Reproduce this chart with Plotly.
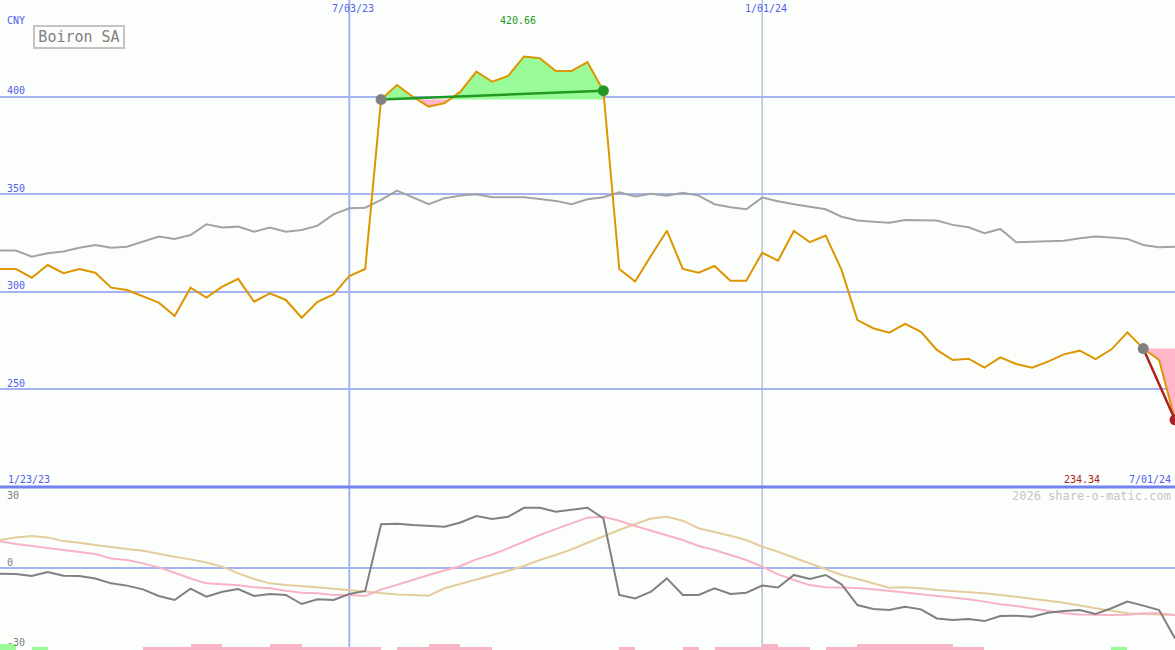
import pandas as pd
import plotly.graph_objects as go

# ---------------- data ----------------
dates = pd.date_range("2023-01-30", "2024-07-01", freq="7D")

price = [311.7, 311.7, 307.2, 313.7, 309.5, 311.7, 309.8, 302.1, 300.9, 297.8,
         294.4, 287.6, 302.1, 297.0, 302.6, 306.6, 294.9, 299.2, 295.8, 286.7,
         294.9, 298.7, 308.1, 311.7, 398.6, 406.0, 400.0, 394.9, 396.7, 402.6,
         412.9, 407.7, 410.7, 420.66, 419.7, 413.2, 413.2, 417.7, 403.1, 311.7,
         305.2, 318.5, 331.3, 311.7, 309.8, 313.2, 305.7, 305.7, 320.0, 316.0,
         331.2, 325.4, 328.8, 311.2, 285.5, 281.3, 279.0, 283.5, 279.5, 270.2,
         265.0, 265.7, 261.1, 266.4, 263.0, 261.1, 264.2, 267.9, 269.8, 265.5,
         270.5, 279.2, 270.9, 265.0, 234.34]

compare = [321.1, 321.1, 318.0, 319.7, 320.6, 322.6, 324.0, 322.6, 323.1, 325.7,
           328.3, 327.1, 329.1, 334.6, 332.9, 333.4, 330.8, 332.9, 330.8, 331.7,
           333.9, 339.7, 342.8, 343.1, 347.1, 351.9, 348.5, 344.9, 348.0, 349.3,
           350.0, 348.5, 348.5, 348.5, 347.6, 346.6, 344.9, 347.4, 348.5, 351.0,
           348.8, 350.2, 349.3, 350.8, 349.3, 344.9, 343.3, 342.3, 348.3, 346.4,
           344.9, 343.6, 342.3, 338.5, 336.5, 335.9, 335.4, 336.8, 336.5, 336.5,
           334.3, 333.1, 330.0, 332.2, 325.4, 325.7, 326.2, 326.2, 327.4, 328.3,
           327.8, 327.1, 324.0, 322.8, 323.1]

momentum = [-2.1, -2.25, -3.0, -1.5, -2.9, -3.0, -3.9, -5.75, -6.6, -8.0,
            -10.5, -12.0, -7.75, -10.75, -8.9, -7.9, -10.5, -9.75, -10.1, -13.5,
            -11.75, -12.0, -9.75, -8.6, 16.4, 16.6, 16.1, 15.9, 15.5, 17.1,
            19.5, 18.4, 19.25, 22.6, 22.6, 21.1, 21.75, 22.6, 18.6, -10.1,
            -11.4, -8.9, -3.9, -10.1, -10.1, -7.6, -9.75, -9.25, -6.6, -7.3,
            -2.6, -4.1, -2.6, -6.1, -13.9, -15.4, -15.75, -14.5, -15.5, -18.9,
            -19.5, -19.1, -19.9, -18.0, -17.9, -18.25, -16.75, -16.1, -15.75, -17.25,
            -15.1, -12.6, -14.1, -15.75, -26.4]

avg_fast = [10.1, 9.0, 8.25, 7.5, 7.0, 6.1, 5.25, 3.6, 3.0, 1.75,
            0.25, -1.75, -3.9, -5.75, -6.1, -6.5, -7.25, -7.6, -8.5, -9.25,
            -9.5, -10.1, -10.1, -10.5, -8.1, -6.4, -4.5, -2.6, -1.0, 0.75,
            3.25, 5.1, 7.4, 9.9, 12.4, 14.6, 16.75, 18.9, 19.25, 17.75,
            15.75, 14.0, 12.4, 10.5, 8.25, 6.75, 4.9, 3.0, 0.5, -2.4,
            -4.5, -6.4, -7.25, -7.4, -7.5, -8.0, -8.6, -9.1, -9.75, -10.5,
            -11.1, -11.75, -12.6, -13.6, -14.25, -15.1, -16.1, -17.0, -17.4, -17.6,
            -17.6, -17.5, -17.0, -17.0, -17.6]

avg_slow = [10.5, 11.5, 12.0, 11.5, 10.1, 9.5, 8.6, 7.75, 7.1, 6.5,
            5.25, 4.25, 3.25, 2.1, 0.5, -2.0, -4.1, -5.75, -6.4, -6.75,
            -7.25, -7.75, -8.25, -8.9, -9.5, -9.9, -10.1, -10.4, -7.6, -6.0,
            -4.25, -2.6, -1.0, 0.75, 3.0, 4.9, 7.0, 9.5, 12.0, 14.25,
            16.5, 18.6, 19.25, 17.75, 14.9, 13.6, 12.1, 10.5, 8.0, 6.1,
            3.9, 1.75, -0.5, -2.6, -4.1, -5.75, -7.4, -7.25, -7.6, -8.25,
            -8.6, -9.1, -9.5, -10.1, -10.75, -11.6, -12.25, -13.0, -14.1, -15.1,
            -16.0, -17.0, -17.25, -17.4, -17.6]

signal = [2, 0, 1, 0, 0, 0, 0, 0, 0, -1,
          -1, -1, -2, -2, -1, -1, -1, -2, -2, -1,
          -1, -1, -1, -1, 0, -1, -1, -2, -2, -1,
          -1, 0, 0, 0, 0, 0, 0, 0, 0, -1,
          0, 0, 0, -1, 0, -1, -1, -1, -2, -1,
          -1, 0, -1, -1, -2, -2, -2, -2, -2, -2,
          -1, -1, 0, 0, 0, 0, 0, 0, 0, 0,
          1, 0, 0, 0, 0]

periods = [(24, 38, "#229922"), (72, 74, "#aa2222")]   # (start idx, end idx, end colour)
upper_ticks = [250, 300, 350, 400]
lower_ticks = [30, 0, -30]
date_ticks = ["2023-07-03", "2024-01-01"]
date_tick_labels = ["7/03/23", "1/01/24"]
first_label, last_label = "1/23/23", "7/01/24"
title = "Boiron SA"
currency = "CNY"
watermark = "2026 share-o-matic.com"

# ---------------- styling ----------------
W, H = 1175, 650
BG = "#fcfefc"
GRID = "#a6b3f3"
BLUE_TXT = "#5060ee"
FONT = "DejaVu Sans Mono"
ORANGE = "#dd9500"
SPLIT = 163 / H   # lower panel height fraction


def px_x(p):
    return p / W


def px_y(p):
    return 1 - p / H


fig = go.Figure()

ts = [d.value / 1e6 for d in dates]  # ms


def split_fill(i0, i1, base):
    up, dn = [], []
    for k in range(i0, i1 + 1):
        if k > i0:
            a, b = price[k - 1] - base, price[k] - base
            if a * b < 0:
                t = -a / (b - a)
                xc = ts[k - 1] + t * (ts[k] - ts[k - 1])
                up.append((xc, base))
                dn.append((xc, base))
        up.append((ts[k], max(price[k], base)))
        dn.append((ts[k], min(price[k], base)))
    return up, dn


for (i0, i1, col) in periods:
    base = price[i0]
    up, dn = split_fill(i0, i1, base)
    for pts, fc in [(up, "#98fb98"), (dn, "#ffb6c8")]:
        xs = [p[0] for p in pts] + [ts[i1], ts[i0]]
        ys = [p[1] for p in pts] + [base, base]
        if max(abs(y - base) for y in ys) < 1e-9:
            continue
        fig.add_trace(go.Scatter(
            x=pd.to_datetime(xs, unit="ms"), y=ys, mode="lines", fill="toself",
            fillcolor=fc, line=dict(width=0), hoverinfo="skip", showlegend=False))

# compare line (upper)
fig.add_trace(go.Scatter(x=dates, y=compare, mode="lines",
                         line=dict(color="#a3a3a3", width=2), hoverinfo="skip", showlegend=False))
# price line
fig.add_trace(go.Scatter(x=dates, y=price, mode="lines",
                         line=dict(color=ORANGE, width=2), hoverinfo="skip", showlegend=False))

# trend lines and dots
for (i0, i1, col) in periods:
    fig.add_trace(go.Scatter(x=[dates[i0], dates[i1]], y=[price[i0], price[i1]], mode="lines",
                             line=dict(color=col, width=2.5), hoverinfo="skip", showlegend=False))
    fig.add_trace(go.Scatter(x=[dates[i0]], y=[price[i0]], mode="markers",
                             marker=dict(color="#808080", size=11, line=dict(width=0)),
                             hoverinfo="skip", showlegend=False, cliponaxis=False))
    fig.add_trace(go.Scatter(x=[dates[i1]], y=[price[i1]], mode="markers",
                             marker=dict(color=col, size=11, line=dict(width=0)),
                             hoverinfo="skip", showlegend=False, cliponaxis=False))

# lower panel lines
for series, col in [(avg_slow, "#e3cd9c"), (avg_fast, "#f8b2c8"), (momentum, "#808080")]:
    fig.add_trace(go.Scatter(x=dates, y=series, mode="lines", yaxis="y2",
                             line=dict(color=col, width=2), hoverinfo="skip", showlegend=False))

# signal bars
bx = [d for d, s in zip(dates, signal) if s != 0]
by = [abs(s) * 3 for s in signal if s != 0]
bc = ["#98fb98" if s > 0 else "#f9b4c8" for s in signal if s != 0]
fig.add_trace(go.Bar(x=bx, y=by, yaxis="y3", marker=dict(color=bc, line=dict(width=0)),
                     width=[7 * 86400000] * len(bx), offset=0, hoverinfo="skip", showlegend=False))

# ---------------- shapes ----------------
shapes = []
shapes.append(dict(type="line", xref="x", yref="paper", x0=date_ticks[0], x1=date_ticks[0],
                   y0=0, y1=1, line=dict(color="#a3b0f2", width=2), layer="below"))
shapes.append(dict(type="line", xref="x", yref="paper", x0=date_ticks[1], x1=date_ticks[1],
                   y0=0, y1=1, line=dict(color="#b6bde0", width=1.5), layer="below"))
shapes.append(dict(type="line", xref="paper", yref="paper", x0=0, x1=1, y0=SPLIT, y1=SPLIT,
                   line=dict(color="#7282ee", width=3)))

# ---------------- annotations ----------------
ann = []


def txt(text, x, y, color, size=10, xanchor="left", xref="paper", yref="paper", **kw):
    ann.append(dict(text=text, x=x, y=y, xref=xref, yref=yref, xanchor=xanchor, yanchor="middle",
                    showarrow=False, font=dict(family=FONT, size=size, color=color), **kw))


txt(currency, px_x(5), px_y(20), BLUE_TXT)
for v in upper_ticks:
    txt(str(v), px_x(5), v, BLUE_TXT, yref="y", yshift=6)
for d, lab in zip(date_ticks, date_tick_labels):
    txt(lab, d, px_y(8), BLUE_TXT, xanchor="center", xref="x", xshift=4)
imax = max(range(periods[0][0], periods[0][1] + 1), key=lambda k: price[k])
txt(f"{price[imax]:.2f}", dates[imax], px_y(20), "#229922", xanchor="center", xref="x", xshift=-6)
txt(first_label, px_x(6), px_y(479), BLUE_TXT)
txt(last_label, px_x(1173), px_y(479), BLUE_TXT, xanchor="right")
txt(f"{price[-1]:.2f}", px_x(1102), px_y(479), "#aa2222", xanchor="right")
txt(watermark, px_x(1173), px_y(496), "#c4c4c4", size=12, xanchor="right")
txt(str(lower_ticks[0]), px_x(5), px_y(495), "#808080")
txt(str(lower_ticks[1]), px_x(5), 0, "#808080", yref="y2", yshift=6)
txt(str(lower_ticks[2]), px_x(5), -30, "#808080", yref="y2", yshift=6)

ann.append(dict(text=title, x=px_x(33), y=px_y(25), xref="paper", yref="paper",
                xanchor="left", yanchor="top", showarrow=False, width=86, height=18,
                borderwidth=2, bordercolor="#c4c4c4", borderpad=1, bgcolor=BG,
                font=dict(family=FONT, size=15, color="#808080")))

fig.update_layout(
    width=W, height=H, margin=dict(l=0, r=0, t=0, b=0),
    paper_bgcolor=BG, plot_bgcolor="rgba(0,0,0,0)", showlegend=False, bargap=0,
    xaxis=dict(type="date", range=["2023-01-30", "2024-07-01"], showgrid=False,
               showticklabels=False, zeroline=False, showline=False, ticks=""),
    yaxis=dict(domain=[SPLIT, 1], range=[199.9, 449.6], tickvals=upper_ticks, showgrid=True,
               gridcolor=GRID, gridwidth=2, showticklabels=False, zeroline=False, ticks=""),
    yaxis2=dict(domain=[0, SPLIT], range=[-30.75, 30.4], tickvals=[0], showgrid=True,
                gridcolor=GRID, gridwidth=2, showticklabels=False, zeroline=False, anchor="x",
                ticks=""),
    yaxis3=dict(domain=[0, 13 / H], range=[0, 13], showgrid=False, showticklabels=False,
                zeroline=False, anchor="x", ticks=""),
    shapes=shapes, annotations=ann,
)

fig.write_html("out.html", config={"displayModeBar": False},
               post_script="document.body.style.margin='0';document.body.style.overflow='hidden';")
